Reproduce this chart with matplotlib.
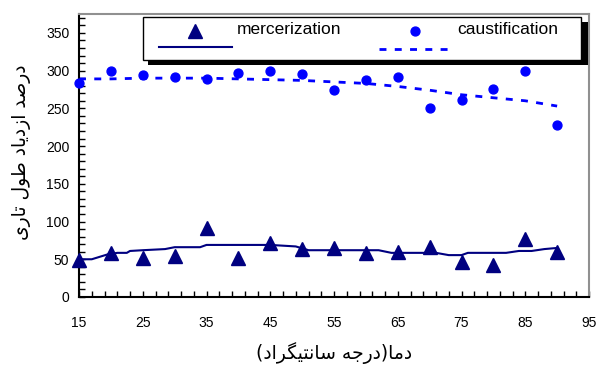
import matplotlib
matplotlib.use("Agg")
import matplotlib.pyplot as plt
from matplotlib.patches import Rectangle
from matplotlib.lines import Line2D
from matplotlib.ticker import MultipleLocator

# data
temps = [15, 20, 25, 30, 35, 40, 45, 50, 55, 60, 65, 70, 75, 80, 85, 90]
mercerization = [49, 58, 52, 54, 92, 52, 72, 63, 65, 58, 60, 66, 47, 43, 77, 59]
caustification = [284, 300, 294, 292, 289, 297, 300, 295, 274, 287, 292, 250, 261, 276, 300, 228]

merc_trend_x = [15, 17, 19.5, 21, 22.5, 23, 25, 28.5, 30, 34, 35, 45, 49, 51, 57, 62, 64, 71, 73, 75, 76, 82, 84, 86, 88, 90]
merc_trend_y = [50, 50, 56.5, 58.5, 58.5, 61, 62, 63.5, 66, 66, 69, 69, 67, 62, 62, 62, 58.5, 58.5, 55.5, 55.5, 58.5, 58.5, 61, 61, 63.5, 65]
caus_trend_x = [15, 20, 25, 30, 35, 40, 45, 50, 55, 60, 65, 70, 75, 80, 85, 90]
caus_trend_y = [289, 289, 290, 290, 290, 289, 288, 287, 285, 283, 279, 274, 268, 264, 260, 253]

xlabel_fa = "دما(درجه سانتیگراد)"
ylabel_fa = "درصد ازدیاد طول تاری"

# minimal Persian shaping (matplotlib has no complex text layout)
FORMS = {
    "ا": (0xFE8D, 0xFE8E), "د": (0xFEA9, 0xFEAA), "ر": (0xFEAD, 0xFEAE),
    "ز": (0xFEAF, 0xFEB0), "و": (0xFEED, 0xFEEE),
    "ص": (0xFEB9, 0xFEBA, 0xFEBB, 0xFEBC), "ط": (0xFEC1, 0xFEC2, 0xFEC3, 0xFEC4),
    "ل": (0xFEDD, 0xFEDE, 0xFEDF, 0xFEE0), "ت": (0xFE95, 0xFE96, 0xFE97, 0xFE98),
    "م": (0xFEE1, 0xFEE2, 0xFEE3, 0xFEE4), "ج": (0xFE9D, 0xFE9E, 0xFE9F, 0xFEA0),
    "ه": (0xFEE9, 0xFEEA, 0xFEEB, 0xFEEC), "س": (0xFEB1, 0xFEB2, 0xFEB3, 0xFEB4),
    "ن": (0xFEE5, 0xFEE6, 0xFEE7, 0xFEE8), "ی": (0xFBFC, 0xFBFD, 0xFBFE, 0xFBFF),
    "گ": (0xFB92, 0xFB93, 0xFB94, 0xFB95),
}


def shape(text):
    out = []
    for i, ch in enumerate(text):
        if ch not in FORMS:
            out.append(ch)
            continue
        f = FORMS[ch]
        prev = text[i - 1] if i > 0 else ""
        nxt = text[i + 1] if i + 1 < len(text) else ""
        pj = prev in FORMS and len(FORMS[prev]) == 4
        nj = len(f) == 4 and nxt in FORMS
        if pj and nj:
            out.append(chr(f[3]))
        elif pj:
            out.append(chr(f[1]))
        elif nj:
            out.append(chr(f[2]))
        else:
            out.append(chr(f[0]))
    mirror = {"(": ")", ")": "("}
    return "".join(mirror.get(c, c) for c in reversed(out))


plt.rcParams["font.family"] = ["Liberation Sans", "DejaVu Sans"]

fig = plt.figure(figsize=(5.97, 3.68), dpi=100)
ax = fig.add_axes([79 / 597, 1 - 297 / 368, 510 / 597, 283 / 368])

ax.plot(merc_trend_x, merc_trend_y, color="#000080", lw=1.5, zorder=2)
ax.plot(caus_trend_x, caus_trend_y, color="#0000FF", lw=2, linestyle=(0, (2.5, 3)), zorder=2)
ax.plot(temps, mercerization, "^", color="#000080", ms=10, zorder=3, clip_on=False)
ax.plot(temps, caustification, "o", color="#0000FF", ms=6.4, zorder=3, clip_on=False)

ax.set_xlim(15, 95)
ax.set_ylim(0, 375)
ax.set_xticks(range(15, 96, 10))
ax.xaxis.set_minor_locator(MultipleLocator(2, offset=1))
ax.set_yticks(range(0, 351, 50))
ax.yaxis.set_minor_locator(MultipleLocator(10))
ax.tick_params(axis="both", which="both", direction="in", length=4, width=1, labelsize=10)
ax.tick_params(axis="x", which="both", pad=14)
ax.tick_params(axis="y", which="both", pad=7)

for s in ["left", "bottom"]:
    ax.spines[s].set_color("black")
    ax.spines[s].set_linewidth(1.5)
for s in ["top", "right"]:
    ax.spines[s].set_color("#909090")
    ax.spines[s].set_linewidth(1.5)

ax.set_xlabel(shape(xlabel_fa), family=["DejaVu Sans"], fontsize=13.5, labelpad=8)
fig.text(22 / 597, 1 - 152 / 368, shape(ylabel_fa), family=["DejaVu Sans"], fontsize=13.5,
         rotation=90, ha="center", va="center")


# hand-made legend with a drop shadow
def fx(px):
    return px / 597


def fy(py):
    return 1 - py / 368


fig.add_artist(Rectangle((fx(148), fy(65)), fx(588) - fx(148), fy(22) - fy(65),
                         transform=fig.transFigure, facecolor="black", edgecolor="none", zorder=5))
fig.add_artist(Rectangle((fx(143), fy(60)), fx(581) - fx(143), fy(17) - fy(60),
                         transform=fig.transFigure, facecolor="white", edgecolor="black", lw=1, zorder=6))
fig.add_artist(Line2D([fx(195)], [fy(31)], marker="^", color="#000080", ms=10,
                      transform=fig.transFigure, zorder=7))
fig.add_artist(Line2D([fx(159), fx(232)], [fy(47), fy(47)], color="#000080", lw=1.5,
                      transform=fig.transFigure, zorder=7))
fig.text(fx(237), fy(30), "mercerization", fontsize=12.5, va="center", ha="left", zorder=7)
fig.add_artist(Line2D([fx(415)], [fy(31)], marker="o", color="#0000FF", ms=6.4,
                      transform=fig.transFigure, zorder=7))
fig.add_artist(Line2D([fx(379), fx(452)], [fy(49), fy(49)], color="#0000FF", lw=2,
                      linestyle=(0, (2.5, 3)), transform=fig.transFigure, zorder=7))
fig.text(fx(457), fy(30), "caustification", fontsize=12.5, va="center", ha="left", zorder=7)

fig.savefig("out.png", dpi=100)
